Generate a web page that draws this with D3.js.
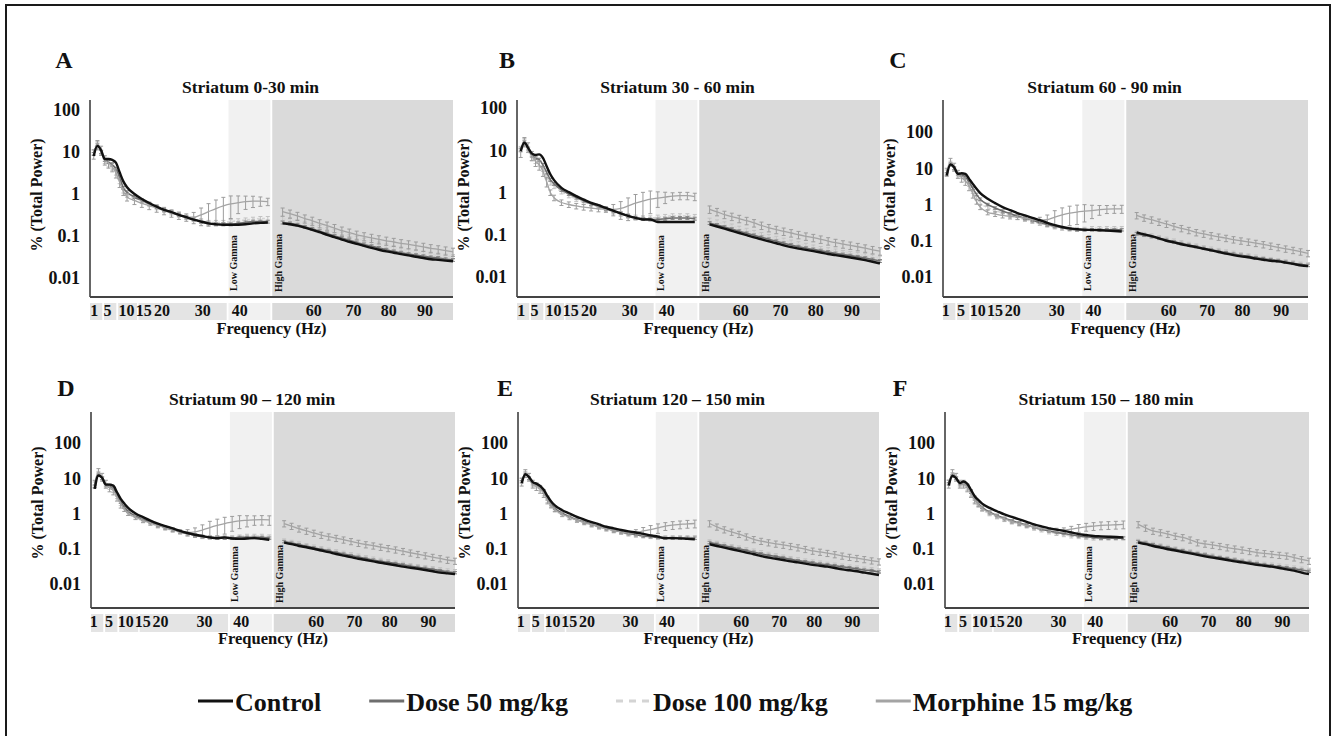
<!DOCTYPE html>
<html>
<head>
<meta charset="utf-8">
<script src="https://cdn.jsdelivr.net/npm/d3@7"></script>
<style>
body { margin: 0; background: #fff; }
svg text { font-family: "Liberation Serif", "Times New Roman", Times, "DejaVu Serif", serif !important; font-weight: bold; fill: #111; }
</style>
</head>
<body>
<script>
var width = 1333,
    height = 736;

// frequency bins (Hz); 50 Hz notch leaves a gap between the two runs
var freqLow = [1, 2, 3, 4, 5, 6, 7, 8, 9, 10, 12, 14, 16, 18, 20, 22, 24, 26, 28, 30, 32, 34, 36, 38, 40, 42, 44, 46, 48];
var freqHigh = [52, 54, 56, 58, 60, 62, 64, 66, 68, 70, 72, 74, 76, 78, 80, 82, 84, 86, 88, 90, 92, 94, 96, 98];

var seriesNames = ['Control', 'Dose 50 mg/kg', 'Dose 100 mg/kg', 'Morphine 15 mg/kg'];
var panelLetters = ['A', 'B', 'C', 'D', 'E', 'F'];
var panelTitles = ['Striatum 0-30 min', 'Striatum 30 - 60 min', 'Striatum 60 - 90 min',
    'Striatum 90 \u2013 120 min', 'Striatum 120 \u2013 150 min', 'Striatum 150 \u2013 180 min'];

var yTickValues = [0.01, 0.1, 1, 10, 100];
var yTickLabels = ['0.01', '0.1', '1', '10', '100'];
var xTickLabels = ['1', '5', '10', '15', '20', '30', '40', '60', '70', '80', '90'];
var xTickPosWide = [1, 4.6, 9.7, 14.4, 19.3, 30.3, 40.3, 60.3, 71, 80.5, 90.3];
var xTickPosTight = [0.6, 4.7, 9.2, 13.8, 18.6, 30.4, 40.3, 60.5, 70.8, 80.3, 90.7];

// frequency bands (Hz) shown as grey strips
var freqBands = [[0, 3.3], [3.8, 7.1], [7.6, 12.7], [13.1, 36.9], [37.4, 48.7], [49.2, 98]];
var lowGamma = [37.4, 48.7];
var highGamma = [49.2, 98];

// relative SEM of the two dose groups
var dose50Sem = 0.08;
var dose100Sem = 0.12;

// ---- A: 0-30 min
var ctrlA = [8, 14, 11, 6.8, 6.8, 6.5, 5.6, 3.3, 2.0, 1.45, 1.0, 0.76, 0.61, 0.5, 0.42, 0.37, 0.32, 0.28, 0.245, 0.22, 0.2, 0.19, 0.185, 0.185, 0.186, 0.19, 0.2, 0.205, 0.21,
    0.2, 0.19, 0.176, 0.158, 0.14, 0.123, 0.107, 0.094, 0.082, 0.073, 0.065, 0.058, 0.052, 0.047, 0.043, 0.04, 0.037, 0.0345, 0.032, 0.03, 0.028, 0.027, 0.026, 0.025];
var d50A = [9, 15, 10, 6.5, 5.8, 5, 4, 2.5, 1.4, 1.1, 0.85, 0.7, 0.58, 0.49, 0.42, 0.37, 0.32, 0.28, 0.25, 0.22, 0.2, 0.19, 0.19, 0.19, 0.2, 0.21, 0.22, 0.22, 0.22,
    0.21, 0.2, 0.185, 0.165, 0.148, 0.13, 0.115, 0.1, 0.089, 0.079, 0.07, 0.063, 0.057, 0.052, 0.047, 0.043, 0.04, 0.037, 0.035, 0.033, 0.031, 0.03, 0.028, 0.027];
var d100A = [10, 16, 10, 6, 5, 4.2, 3.2, 2, 1.2, 0.95, 0.8, 0.68, 0.57, 0.48, 0.41, 0.36, 0.32, 0.28, 0.25, 0.23, 0.21, 0.21, 0.21, 0.22, 0.23, 0.24, 0.25, 0.26, 0.26,
    0.26, 0.24, 0.22, 0.2, 0.18, 0.16, 0.14, 0.125, 0.11, 0.098, 0.088, 0.079, 0.071, 0.064, 0.058, 0.053, 0.049, 0.045, 0.042, 0.039, 0.037, 0.035, 0.033, 0.032];
var morA = [9, 15, 11, 6.5, 5.5, 4.5, 3.2, 1.9, 1.15, 0.85, 0.7, 0.6, 0.53, 0.46, 0.4, 0.35, 0.31, 0.28, 0.28, 0.32, 0.38, 0.45, 0.52, 0.58, 0.62, 0.66, 0.68, 0.68, 0.66,
    0.38, 0.34, 0.3, 0.26, 0.23, 0.2, 0.176, 0.154, 0.134, 0.12, 0.107, 0.098, 0.09, 0.083, 0.077, 0.072, 0.067, 0.063, 0.059, 0.055, 0.051, 0.048, 0.045, 0.042];
var semA = [0.25, 0.25, 0.25, 0.25, 0.25, 0.25, 0.25, 0.25, 0.2, 0.2, 0.2, 0.2, 0.2, 0.2, 0.2, 0.2, 0.2, 0.2, 0.3, 0.45, 0.55, 0.6, 0.6, 0.55, 0.45, 0.35, 0.3, 0.25, 0.2,
    0.22, 0.22, 0.22, 0.22, 0.22, 0.22, 0.22, 0.22, 0.22, 0.22, 0.22, 0.22, 0.22, 0.22, 0.22, 0.22, 0.22, 0.22, 0.22, 0.22, 0.22, 0.22, 0.22, 0.22];

// ---- B: 30-60 min
var ctrlB = [9.5, 15, 11.4, 8.4, 7.7, 8, 6.6, 4.2, 2.7, 1.96, 1.29, 1.02, 0.82, 0.68, 0.57, 0.5, 0.43, 0.37, 0.32, 0.28, 0.25, 0.23, 0.23, 0.2, 0.2, 0.2, 0.2, 0.2, 0.2,
    0.175, 0.157, 0.14, 0.124, 0.11, 0.098, 0.087, 0.078, 0.07, 0.063, 0.056, 0.051, 0.047, 0.044, 0.041, 0.038, 0.035, 0.033, 0.031, 0.029, 0.027, 0.025, 0.023, 0.021];
var d50B = [10, 16, 11, 7.5, 6.5, 6, 4.5, 3, 2, 1.6, 1.15, 0.92, 0.76, 0.64, 0.54, 0.47, 0.41, 0.36, 0.32, 0.28, 0.25, 0.24, 0.23, 0.23, 0.24, 0.25, 0.25, 0.25, 0.24,
    0.19, 0.17, 0.152, 0.136, 0.121, 0.108, 0.097, 0.087, 0.078, 0.07, 0.063, 0.057, 0.052, 0.048, 0.045, 0.042, 0.039, 0.036, 0.034, 0.032, 0.03, 0.028, 0.026, 0.024];
var d100B = [11, 17, 10, 6.5, 5.5, 4.8, 3.6, 2.4, 1.7, 1.4, 1.05, 0.85, 0.7, 0.6, 0.52, 0.46, 0.4, 0.35, 0.31, 0.28, 0.26, 0.25, 0.25, 0.26, 0.27, 0.28, 0.28, 0.28, 0.27,
    0.22, 0.2, 0.18, 0.16, 0.142, 0.127, 0.113, 0.101, 0.091, 0.082, 0.074, 0.067, 0.061, 0.056, 0.051, 0.047, 0.044, 0.041, 0.038, 0.036, 0.034, 0.032, 0.03, 0.028];
var morB = [9, 16, 12, 7.5, 5.5, 4.5, 3.2, 1.8, 1.0, 0.75, 0.58, 0.52, 0.48, 0.45, 0.43, 0.41, 0.4, 0.4, 0.42, 0.48, 0.56, 0.63, 0.7, 0.74, 0.78, 0.82, 0.84, 0.84, 0.8,
    0.4, 0.35, 0.3, 0.27, 0.24, 0.215, 0.19, 0.166, 0.146, 0.132, 0.12, 0.11, 0.1, 0.092, 0.085, 0.078, 0.071, 0.065, 0.06, 0.056, 0.052, 0.048, 0.044, 0.041];
var semB = [0.25, 0.25, 0.25, 0.25, 0.25, 0.25, 0.25, 0.25, 0.15, 0.15, 0.15, 0.15, 0.15, 0.15, 0.15, 0.15, 0.15, 0.3, 0.45, 0.55, 0.6, 0.6, 0.55, 0.4, 0.3, 0.2, 0.2, 0.2, 0.2,
    0.2, 0.2, 0.2, 0.2, 0.2, 0.2, 0.2, 0.2, 0.2, 0.2, 0.2, 0.2, 0.2, 0.2, 0.2, 0.2, 0.2, 0.2, 0.2, 0.2, 0.2, 0.2, 0.2, 0.2];

// ---- C: 60-90 min
var ctrlC = [6.3, 12.7, 10.7, 7, 7.3, 7, 5.1, 3.7, 2.7, 2.05, 1.43, 1.09, 0.85, 0.7, 0.58, 0.5, 0.43, 0.37, 0.31, 0.27, 0.24, 0.22, 0.21, 0.2, 0.2, 0.195, 0.19, 0.185, 0.18,
    0.17, 0.15, 0.134, 0.117, 0.1, 0.09, 0.08, 0.073, 0.067, 0.06, 0.054, 0.049, 0.044, 0.04, 0.037, 0.035, 0.032, 0.03, 0.028, 0.027, 0.025, 0.023, 0.021, 0.02];
var d50C = [7, 13, 10, 7, 6.5, 5.8, 4.2, 2.8, 1.9, 1.4, 1.0, 0.8, 0.66, 0.56, 0.48, 0.42, 0.37, 0.32, 0.28, 0.25, 0.23, 0.21, 0.2, 0.2, 0.2, 0.2, 0.2, 0.2, 0.2,
    0.155, 0.142, 0.13, 0.117, 0.104, 0.093, 0.084, 0.076, 0.069, 0.062, 0.056, 0.051, 0.047, 0.043, 0.04, 0.037, 0.034, 0.032, 0.03, 0.028, 0.026, 0.024, 0.022, 0.021];
var d100C = [8, 14, 10, 6.5, 6, 5, 3.6, 2.3, 1.5, 1.1, 0.82, 0.68, 0.58, 0.5, 0.44, 0.39, 0.34, 0.3, 0.27, 0.24, 0.22, 0.21, 0.21, 0.21, 0.22, 0.22, 0.22, 0.22, 0.22,
    0.165, 0.152, 0.139, 0.125, 0.112, 0.1, 0.09, 0.081, 0.073, 0.066, 0.06, 0.055, 0.05, 0.046, 0.042, 0.039, 0.036, 0.033, 0.031, 0.029, 0.027, 0.025, 0.023, 0.022];
var morC = [8, 15, 11, 7, 5.5, 4.5, 3.2, 2, 1.2, 0.85, 0.61, 0.55, 0.5, 0.47, 0.45, 0.42, 0.38, 0.37, 0.38, 0.45, 0.52, 0.58, 0.62, 0.66, 0.68, 0.72, 0.75, 0.76, 0.76,
    0.5, 0.43, 0.38, 0.33, 0.29, 0.25, 0.22, 0.195, 0.17, 0.155, 0.14, 0.128, 0.118, 0.108, 0.1, 0.093, 0.086, 0.079, 0.072, 0.066, 0.06, 0.055, 0.05, 0.045];
var semC = [0.25, 0.25, 0.25, 0.25, 0.25, 0.25, 0.25, 0.25, 0.15, 0.15, 0.15, 0.15, 0.15, 0.15, 0.15, 0.15, 0.15, 0.2, 0.35, 0.5, 0.55, 0.55, 0.55, 0.5, 0.4, 0.3, 0.25, 0.25, 0.25,
    0.2, 0.2, 0.2, 0.2, 0.2, 0.2, 0.2, 0.2, 0.2, 0.2, 0.2, 0.2, 0.2, 0.2, 0.2, 0.2, 0.2, 0.2, 0.2, 0.2, 0.2, 0.2, 0.2, 0.2];

// ---- D: 90-120 min
var ctrlD = [5, 12, 10.3, 6.6, 6.6, 6.2, 4, 2.6, 1.9, 1.45, 1.0, 0.79, 0.63, 0.52, 0.44, 0.38, 0.32, 0.28, 0.25, 0.23, 0.21, 0.2, 0.21, 0.195, 0.19, 0.195, 0.2, 0.19, 0.18,
    0.15, 0.135, 0.12, 0.11, 0.1, 0.089, 0.08, 0.071, 0.064, 0.058, 0.052, 0.048, 0.044, 0.04, 0.037, 0.034, 0.031, 0.029, 0.027, 0.025, 0.023, 0.021, 0.02, 0.019];
var d50D = [6, 13, 10, 6.5, 6, 5.2, 3.4, 2.1, 1.5, 1.15, 0.85, 0.68, 0.56, 0.47, 0.4, 0.35, 0.3, 0.27, 0.24, 0.22, 0.21, 0.2, 0.2, 0.2, 0.21, 0.21, 0.21, 0.21, 0.2,
    0.16, 0.145, 0.131, 0.118, 0.106, 0.096, 0.087, 0.078, 0.071, 0.064, 0.058, 0.053, 0.048, 0.044, 0.041, 0.038, 0.035, 0.032, 0.03, 0.028, 0.026, 0.024, 0.022, 0.021];
var d100D = [7, 14, 10, 6, 5.5, 4.5, 3, 1.9, 1.3, 1.0, 0.76, 0.62, 0.52, 0.44, 0.38, 0.33, 0.29, 0.26, 0.24, 0.22, 0.21, 0.21, 0.21, 0.21, 0.22, 0.23, 0.23, 0.23, 0.22,
    0.17, 0.155, 0.14, 0.126, 0.114, 0.103, 0.093, 0.084, 0.076, 0.069, 0.063, 0.057, 0.052, 0.048, 0.044, 0.04, 0.037, 0.034, 0.032, 0.03, 0.028, 0.026, 0.024, 0.023];
var morD = [7, 15, 11, 7, 5.5, 4.5, 3, 1.9, 1.3, 1.0, 0.78, 0.64, 0.54, 0.46, 0.4, 0.35, 0.31, 0.29, 0.3, 0.34, 0.4, 0.46, 0.52, 0.57, 0.62, 0.64, 0.66, 0.67, 0.66,
    0.52, 0.44, 0.37, 0.32, 0.28, 0.245, 0.22, 0.2, 0.18, 0.162, 0.145, 0.132, 0.122, 0.112, 0.103, 0.094, 0.085, 0.077, 0.07, 0.064, 0.058, 0.053, 0.048, 0.045];
var semD = [0.25, 0.25, 0.25, 0.25, 0.25, 0.25, 0.25, 0.25, 0.12, 0.12, 0.12, 0.12, 0.12, 0.12, 0.12, 0.12, 0.12, 0.2, 0.3, 0.4, 0.5, 0.5, 0.5, 0.45, 0.4, 0.35, 0.3, 0.3, 0.3,
    0.2, 0.2, 0.2, 0.2, 0.2, 0.2, 0.2, 0.2, 0.2, 0.2, 0.2, 0.2, 0.2, 0.2, 0.2, 0.2, 0.2, 0.2, 0.2, 0.2, 0.2, 0.2, 0.2, 0.2];

// ---- E: 120-150 min
var ctrlE = [7.3, 13, 10.8, 7.8, 7, 6.1, 4.7, 3.1, 2.2, 1.7, 1.24, 1.0, 0.8, 0.67, 0.57, 0.49, 0.42, 0.38, 0.34, 0.31, 0.29, 0.265, 0.24, 0.22, 0.2, 0.2, 0.197, 0.19, 0.185,
    0.134, 0.12, 0.108, 0.097, 0.087, 0.078, 0.07, 0.062, 0.056, 0.052, 0.048, 0.044, 0.041, 0.038, 0.035, 0.033, 0.031, 0.0285, 0.026, 0.0245, 0.023, 0.021, 0.0195, 0.018];
var d50E = [8, 13, 10, 7, 6.5, 5.5, 4, 2.6, 1.8, 1.4, 1.02, 0.82, 0.67, 0.57, 0.49, 0.43, 0.38, 0.34, 0.3, 0.27, 0.25, 0.23, 0.22, 0.21, 0.2, 0.2, 0.2, 0.2, 0.2,
    0.15, 0.135, 0.122, 0.11, 0.099, 0.089, 0.08, 0.072, 0.065, 0.06, 0.055, 0.05, 0.046, 0.043, 0.04, 0.037, 0.035, 0.033, 0.031, 0.029, 0.027, 0.025, 0.024, 0.022];
var d100E = [9, 14, 10, 6.5, 6, 5, 3.6, 2.3, 1.6, 1.25, 0.92, 0.75, 0.63, 0.54, 0.47, 0.41, 0.36, 0.32, 0.29, 0.26, 0.24, 0.23, 0.22, 0.21, 0.21, 0.21, 0.21, 0.21, 0.21,
    0.16, 0.145, 0.131, 0.118, 0.107, 0.097, 0.088, 0.079, 0.071, 0.065, 0.059, 0.054, 0.05, 0.046, 0.043, 0.04, 0.037, 0.035, 0.033, 0.031, 0.029, 0.027, 0.026, 0.024];
var morE = [8, 14, 11, 7, 6, 5, 3.8, 2.5, 1.7, 1.3, 0.95, 0.78, 0.65, 0.56, 0.48, 0.42, 0.37, 0.33, 0.3, 0.28, 0.29, 0.32, 0.35, 0.39, 0.44, 0.47, 0.49, 0.51, 0.52,
    0.52, 0.42, 0.35, 0.3, 0.26, 0.22, 0.185, 0.165, 0.15, 0.138, 0.128, 0.118, 0.108, 0.097, 0.087, 0.081, 0.075, 0.069, 0.063, 0.058, 0.054, 0.05, 0.046, 0.043];
var semE = [0.25, 0.25, 0.25, 0.25, 0.25, 0.25, 0.25, 0.25, 0.12, 0.12, 0.12, 0.12, 0.12, 0.12, 0.12, 0.12, 0.12, 0.12, 0.12, 0.12, 0.2, 0.25, 0.3, 0.3, 0.25, 0.25, 0.25, 0.25, 0.25,
    0.2, 0.2, 0.2, 0.2, 0.2, 0.2, 0.2, 0.2, 0.2, 0.2, 0.2, 0.2, 0.2, 0.2, 0.2, 0.2, 0.2, 0.2, 0.2, 0.2, 0.2, 0.2, 0.2, 0.2];

// ---- F: 150-180 min
var ctrlF = [6.2, 11.8, 10.1, 7.3, 8.1, 7, 4.7, 3.1, 2.4, 1.9, 1.44, 1.16, 0.94, 0.8, 0.68, 0.58, 0.49, 0.43, 0.38, 0.35, 0.32, 0.29, 0.26, 0.245, 0.23, 0.225, 0.22, 0.215, 0.21,
    0.15, 0.135, 0.12, 0.108, 0.097, 0.089, 0.081, 0.074, 0.067, 0.061, 0.056, 0.052, 0.048, 0.044, 0.041, 0.038, 0.035, 0.033, 0.031, 0.0285, 0.026, 0.024, 0.021, 0.019];
var d50F = [7, 12, 10, 7, 7, 6, 4, 2.6, 1.9, 1.5, 1.1, 0.88, 0.73, 0.62, 0.54, 0.47, 0.41, 0.36, 0.32, 0.29, 0.27, 0.25, 0.23, 0.22, 0.21, 0.2, 0.2, 0.2, 0.2,
    0.16, 0.145, 0.13, 0.118, 0.107, 0.097, 0.088, 0.08, 0.073, 0.067, 0.061, 0.056, 0.052, 0.048, 0.044, 0.041, 0.038, 0.035, 0.033, 0.031, 0.029, 0.027, 0.025, 0.023];
var d100F = [8, 13, 10, 6.5, 6.5, 5.2, 3.5, 2.3, 1.7, 1.3, 0.98, 0.8, 0.67, 0.57, 0.5, 0.44, 0.38, 0.34, 0.3, 0.27, 0.25, 0.23, 0.22, 0.21, 0.2, 0.2, 0.2, 0.2, 0.2,
    0.165, 0.15, 0.136, 0.123, 0.112, 0.101, 0.092, 0.084, 0.076, 0.07, 0.064, 0.058, 0.054, 0.05, 0.046, 0.043, 0.04, 0.037, 0.035, 0.033, 0.031, 0.029, 0.027, 0.025];
var morF = [7, 14, 11, 7, 7, 5.5, 3.8, 2.5, 1.8, 1.4, 1.05, 0.85, 0.7, 0.6, 0.52, 0.46, 0.41, 0.37, 0.35, 0.34, 0.34, 0.36, 0.39, 0.42, 0.44, 0.46, 0.47, 0.48, 0.49,
    0.49, 0.39, 0.32, 0.29, 0.26, 0.23, 0.21, 0.18, 0.15, 0.138, 0.128, 0.118, 0.108, 0.1, 0.093, 0.085, 0.078, 0.074, 0.07, 0.066, 0.063, 0.056, 0.05, 0.045];
var semF = [0.25, 0.25, 0.25, 0.25, 0.25, 0.25, 0.25, 0.25, 0.12, 0.12, 0.12, 0.12, 0.12, 0.12, 0.12, 0.12, 0.12, 0.12, 0.12, 0.12, 0.15, 0.2, 0.25, 0.25, 0.25, 0.25, 0.25, 0.25, 0.25,
    0.2, 0.2, 0.2, 0.2, 0.2, 0.2, 0.2, 0.2, 0.2, 0.2, 0.2, 0.2, 0.2, 0.2, 0.2, 0.2, 0.2, 0.2, 0.2, 0.2, 0.2, 0.2, 0.2, 0.2];

var freqs = freqLow.concat(freqHigh);
var nLow = freqLow.length;

// panel layout (pixel boxes) + which arrays go in each
var panels = [
    { x0: 90, x1: 453, top: 100, bottom: 297, y001: 278, y100: 110, tickPos: xTickPosWide, vals: [ctrlA, d50A, d100A, morA], sem: semA },
    { x0: 517, x1: 880, top: 100, bottom: 297, y001: 277, y100: 108, tickPos: xTickPosWide, vals: [ctrlB, d50B, d100B, morB], sem: semB },
    { x0: 943, x1: 1308, top: 100, bottom: 297, y001: 277, y100: 132, tickPos: xTickPosTight, vals: [ctrlC, d50C, d100C, morC], sem: semC },
    { x0: 91, x1: 455, top: 412, bottom: 608, y001: 584, y100: 443, tickPos: xTickPosTight, vals: [ctrlD, d50D, d100D, morD], sem: semD },
    { x0: 518, x1: 879, top: 412, bottom: 608, y001: 584, y100: 443, tickPos: xTickPosTight, vals: [ctrlE, d50E, d100E, morE], sem: semE },
    { x0: 945, x1: 1309, top: 412, bottom: 608, y001: 584, y100: 443, tickPos: xTickPosTight, vals: [ctrlF, d50F, d100F, morF], sem: semF }
];

// look of each series (index matches seriesNames)
var seriesStyle = [
    { color: '#111', width: 2.4, dash: null, bar: null },
    { color: '#6e6e6e', width: 1.6, dash: null, bar: '#8a8a8a' },
    { color: '#d4d4d4', width: 1.6, dash: '3,2', bar: '#c2c2c2' },
    { color: '#a4a4a4', width: 1.3, dash: null, bar: '#9c9c9c' }
];
var drawOrder = [2, 1, 3, 0];
var bandFill = ['#e4e4e4', '#e4e4e4', '#e4e4e4', '#e4e4e4', '#f1f1f1', '#dadada'];
var serif = '"Liberation Serif", "Times New Roman", Times, "DejaVu Serif", serif';

var svg = d3.select('body').append('svg').attr('width', width).attr('height', height)
    .attr('font-family', serif);
svg.append('rect').attr('width', width).attr('height', height).attr('fill', '#fff');

// outer frame
svg.append('rect')
    .attr('x', 6).attr('y', 5).attr('width', 1324).attr('height', 740)
    .attr('fill', 'none').attr('stroke', '#1a1a1a').attr('stroke-width', 2);

panels.forEach(function (p, pi) {
    var g = svg.append('g');
    var x = d3.scaleLinear().domain([0, 98]).range([p.x0, p.x1]);
    var y = d3.scaleLog().domain([0.01, 100]).range([p.y001, p.y100]);
    var bandTop = p.bottom + 6, bandH = p.bottom > 400 ? 18 : 17;

    // gamma shading inside plot
    g.append('rect').attr('x', x(lowGamma[0])).attr('y', p.top)
        .attr('width', x(lowGamma[1]) - x(lowGamma[0])).attr('height', p.bottom - p.top).attr('fill', '#f1f1f1');
    g.append('rect').attr('x', x(highGamma[0])).attr('y', p.top)
        .attr('width', x(highGamma[1]) - x(highGamma[0])).attr('height', p.bottom - p.top).attr('fill', '#dadada');

    // band strips under the axis
    g.selectAll('rect.band').data(freqBands).enter().append('rect')
        .attr('class', 'band')
        .attr('x', function (d) { return x(d[0]); })
        .attr('y', bandTop)
        .attr('width', function (d) { return x(d[1]) - x(d[0]); })
        .attr('height', bandH)
        .attr('fill', function (d, i) { return bandFill[i]; });

    // band names
    g.append('text').attr('transform', 'translate(' + (x(lowGamma[0]) + 8.5) + ',' + (p.bottom - 6) + ') rotate(-90)')
        .style('font-size', '10px').text('Low Gamma');
    g.append('text').attr('transform', 'translate(' + (x(highGamma[0]) + 9.5) + ',' + (p.bottom - 5) + ') rotate(-90)')
        .style('font-size', '10px').text('High Gamma');

    // y axis labels
    var yAxis = d3.axisLeft(y).tickValues(yTickValues)
        .tickFormat(function (d, i) { return yTickLabels[i]; })
        .tickSize(0).tickPadding(10);
    var ya = g.append('g').attr('transform', 'translate(' + p.x0 + ',0)').call(yAxis)
        .attr('font-family', serif);
    ya.select('.domain').remove();
    ya.selectAll('text').style('font-size', '18px').attr('fill', '#111');

    // x axis labels
    var xAxis = d3.axisBottom(x).tickValues(p.tickPos)
        .tickFormat(function (d, i) { return xTickLabels[i]; })
        .tickSize(0).tickPadding(8);
    var xa = g.append('g').attr('transform', 'translate(0,' + p.bottom + ')').call(xAxis)
        .attr('font-family', serif);
    xa.select('.domain').remove();
    xa.selectAll('text').style('font-size', '16px').attr('fill', '#111');

    // axis lines
    g.append('line').attr('x1', p.x0).attr('x2', p.x0).attr('y1', p.top).attr('y2', p.bottom)
        .attr('stroke', '#333').attr('stroke-width', 1.5);
    g.append('line').attr('x1', p.x0).attr('x2', p.x1).attr('y1', p.bottom).attr('y2', p.bottom)
        .attr('stroke', '#444').attr('stroke-width', 2);

    // series
    var line = d3.line()
        .x(function (d) { return x(d.f); })
        .y(function (d) { return y(d.v); })
        .curve(d3.curveMonotoneX);

    drawOrder.forEach(function (si) {
        var st = seriesStyle[si];
        var vals = p.vals[si];
        var pts = freqs.map(function (f, i) { return { f: f, v: vals[i] }; });
        var segs = [pts.slice(0, nLow), pts.slice(nLow)];

        if (st.bar) {
            var semOf = function (i) {
                if (si === 3) return p.sem[i];
                return si === 1 ? dose50Sem : dose100Sem;
            };
            var bars = g.append('g').attr('stroke', st.bar).attr('stroke-width', 1);
            pts.forEach(function (d, i) {
                var e = semOf(i);
                var xx = x(d.f), ylo = y(d.v * (1 - e)), yhi = y(d.v * (1 + e));
                bars.append('line').attr('x1', xx).attr('x2', xx).attr('y1', ylo).attr('y2', yhi);
                bars.append('line').attr('x1', xx - 2).attr('x2', xx + 2).attr('y1', ylo).attr('y2', ylo);
                bars.append('line').attr('x1', xx - 2).attr('x2', xx + 2).attr('y1', yhi).attr('y2', yhi);
            });
        }

        g.selectAll(null).data(segs).enter().append('path')
            .attr('d', line)
            .attr('fill', 'none')
            .attr('stroke', st.color)
            .attr('stroke-width', st.width)
            .attr('stroke-dasharray', st.dash);
    });

    // texts
    var cx = (p.x0 + p.x1) / 2;
    var row2 = p.top > 300;
    g.append('text').attr('x', cx - 21).attr('y', row2 ? 405 : 93)
        .attr('text-anchor', 'middle').style('font-size', '17.5px').text(panelTitles[pi]);
    var letterX = [64, 507, 898, 66, 505, 900];
    g.append('text').attr('x', letterX[pi]).attr('y', row2 ? 396 : 68)
        .attr('text-anchor', 'middle').style('font-size', '24px').text(panelLetters[pi]);
    g.append('text')
        .attr('transform', 'translate(' + (p.x0 - 48) + ',' + (row2 ? 503 : 195) + ') rotate(-90)')
        .attr('text-anchor', 'middle').style('font-size', '16px').text('% (Total Power)');
    g.append('text').attr('x', cx).attr('y', row2 ? 644 : 334)
        .attr('text-anchor', 'middle').style('font-size', '16.5px').text('Frequency (Hz)');
});

// legend
var legend = svg.append('g');
var lx = 198, ly = 701;
seriesNames.forEach(function (name, i) {
    var st = seriesStyle[i];
    legend.append('line').attr('x1', lx).attr('x2', lx + 35).attr('y1', ly).attr('y2', ly)
        .attr('stroke', st.color).attr('stroke-width', 3.2)
        .attr('stroke-dasharray', i === 2 ? '7,6' : null);
    var t = legend.append('text').attr('x', lx + 37).attr('y', ly + 10)
        .style('font-size', '26px').text(name);
    lx = lx + 37 + t.node().getComputedTextLength() + 48;
});
</script>
</body>
</html>
